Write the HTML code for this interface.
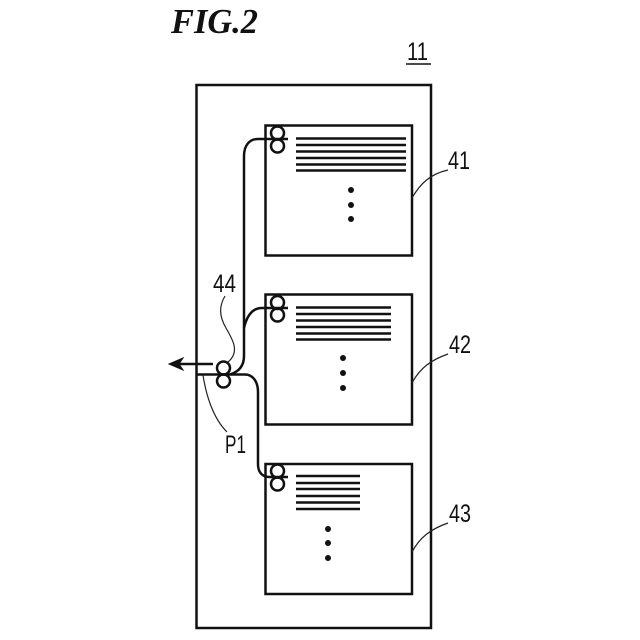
<!DOCTYPE html>
<html>
<head>
<meta charset="utf-8">
<style>
html,body{margin:0;padding:0;background:#fff;width:640px;height:640px;overflow:hidden}
svg{display:block}
text{font-family:"Liberation Sans",sans-serif;fill:#111}
</style>
</head>
<body>
<svg width="640" height="640" viewBox="0 0 640 640" xmlns="http://www.w3.org/2000/svg">
<rect width="640" height="640" fill="#fff"/>
<text x="171" y="33" style="font-family:'Liberation Serif',serif;font-weight:bold;font-style:italic;font-size:35px" textLength="87" lengthAdjust="spacingAndGlyphs">FIG.2</text>
<text x="407" y="60" font-size="25" textLength="21" lengthAdjust="spacingAndGlyphs">11</text>
<line x1="406" y1="64" x2="431" y2="64" stroke="#111" stroke-width="1.6"/>

<g fill="none" stroke="#111" stroke-width="2.500">
<rect x="196.5" y="85" width="234.5" height="543"/>
<rect x="265.5" y="125.500" width="146.500" height="130"/>
<rect x="265.5" y="294.500" width="146.500" height="130"/>
<rect x="265.5" y="464" width="146.500" height="130"/>
<circle cx="277.500" cy="133" r="6.500"/>
<circle cx="277.500" cy="146" r="6.500"/>
<circle cx="277.500" cy="302.500" r="6.500"/>
<circle cx="277.500" cy="315" r="6.500"/>
<circle cx="277.500" cy="471" r="6.500"/>
<circle cx="277.500" cy="484" r="6.500"/>
<circle cx="223.500" cy="368" r="6.500"/>
<circle cx="223.500" cy="381" r="6.500"/>
<path d="M288 139H258C249 139 244 146 244 156V356C244 367 238 372 230 374.500"/>
<path d="M288 308H262C253 308 247 315 244 328"/>
<path d="M197 374.500H245C253 374.500 258 382 258 392V464C258 472 262 477 270 477H288"/>
<path d="M213 364H176"/>
</g>
<path d="M169 364L183 358L179 364L183 370Z" fill="#111" stroke="#111" stroke-width="1"/>

<g stroke="#111" stroke-width="2.500">
<path d="M296 138.500H406M296 145H406M296 151.500H406M296 158H406M296 164.500H406M296 170.500H406"/>
<path d="M296 307.500H391M296 314H391M296 320.500H391M296 327H391M296 333.500H391M296 339.500H391"/>
<path d="M296 476H360M296 483H360M296 489H360M296 496H360M296 502.500H360M296 509H360"/>
</g>
<g fill="#111">
<circle cx="351" cy="190" r="3"/><circle cx="351" cy="205" r="3"/><circle cx="351" cy="219" r="3"/>
<circle cx="343" cy="358" r="3"/><circle cx="343" cy="373" r="3"/><circle cx="343" cy="388" r="3"/>
<circle cx="328" cy="529" r="3"/><circle cx="328" cy="543" r="3"/><circle cx="328" cy="558" r="3"/>
</g>

<g fill="none" stroke="#222" stroke-width="1.200">
<path d="M412 198C420 184 430 174 448 170"/>
<path d="M412 383C420 368 431 360 448 354"/>
<path d="M412 552C420 537 431 529 448 523"/>
<path d="M225 296C219 306 219 316 226 328C233 340 240 352 228 362"/>
<path d="M203 375C206 395 213 418 227 432"/>
</g>

<g font-size="25">
<text x="448" y="169" textLength="22" lengthAdjust="spacingAndGlyphs">41</text>
<text x="449" y="353" textLength="22" lengthAdjust="spacingAndGlyphs">42</text>
<text x="449" y="522" textLength="22" lengthAdjust="spacingAndGlyphs">43</text>
<text x="213" y="292" textLength="23" lengthAdjust="spacingAndGlyphs">44</text>
<text x="225" y="453" textLength="21" lengthAdjust="spacingAndGlyphs">P1</text>
</g>
</svg>
</body>
</html>
